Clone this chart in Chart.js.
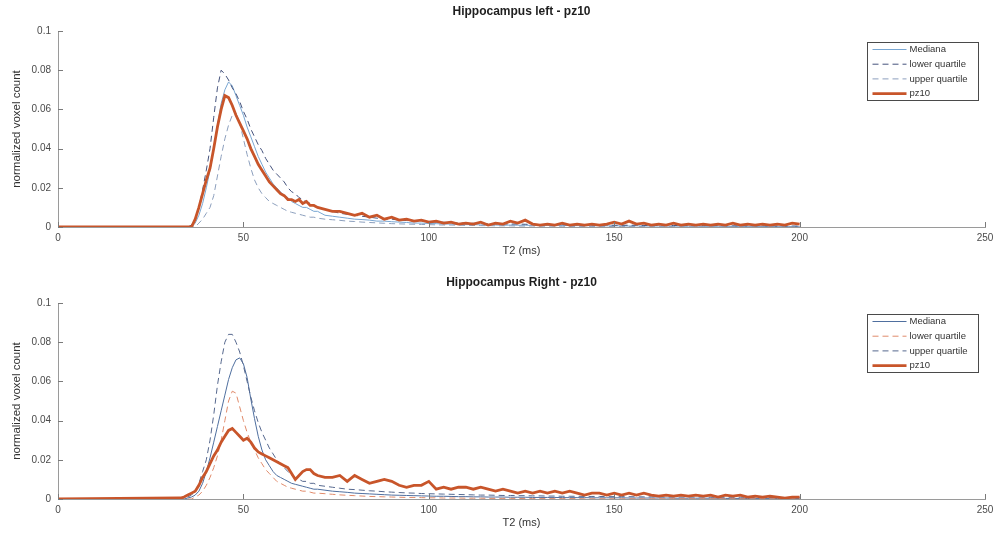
<!DOCTYPE html>
<html>
<head>
<meta charset="utf-8">
<title>Hippocampus T2 distributions - pz10</title>
<script src="https://cdn.jsdelivr.net/npm/chart.js@4.4.1/dist/chart.umd.min.js"></script>
<style>
  html, body { margin: 0; padding: 0; background: #fff; }
  .panel { width: 1000px; height: 270px; }
  canvas { display: block; }
</style>
</head>
<body>
<div class="panel"><canvas id="left" width="1000" height="270"></canvas></div>
<div class="panel"><canvas id="right" width="1000" height="270"></canvas></div>
<script>
// T2 bins (ms) shared by every curve
const t2 = [0, 33, 34, 35,
  36, 37, 38, 39, 40, 41, 42, 43, 44, 45, 46, 47, 48, 49, 50, 51, 52, 53, 54, 55,
  56, 57, 58, 59, 60, 61, 62, 63, 64, 65, 66, 67, 68, 69, 70,
  72, 74, 76, 78, 80, 82, 84, 86, 88, 90, 92, 94, 96, 98, 100, 102, 104, 106, 108, 110,
  112, 114, 116, 118, 120, 122, 124, 126, 128, 130, 132, 134, 136, 138, 140, 142, 144, 146, 148, 150,
  152, 154, 156, 158, 160, 162, 164, 166, 168, 170, 172, 174, 176, 178, 180, 182, 184, 186, 188, 190,
  192, 194, 196, 198, 200];

const xTicks = [0, 50, 100, 150, 200, 250];
const yTicks = [0, 0.02, 0.04, 0.06, 0.08, 0.1];
const seriesNames = ['Mediana', 'lower quartile', 'upper quartile', 'pz10'];

// ---- Hippocampus left ----
const leftMedian = [0, 0, 0, 0,
  0, 0.002, 0.006, 0.012, 0.020, 0.029, 0.040, 0.052, 0.063, 0.070,
  0.074, 0.072, 0.067, 0.062, 0.057, 0.051, 0.046, 0.041, 0.036, 0.032,
  0.028, 0.025, 0.022, 0.020, 0.018, 0.016, 0.015, 0.013, 0.012, 0.011,
  0.010, 0.010, 0.009, 0.008, 0.008,
  0.006, 0.0055, 0.005, 0.0045, 0.004, 0.0038, 0.0035, 0.003, 0.003, 0.0027,
  0.0025, 0.0023, 0.002, 0.002, 0.0018, 0.0017, 0.0015, 0.0015, 0.0013, 0.0012,
  0.0012, 0.0011, 0.001, 0.001, 0.0009, 0.001, 0.0009, 0.0009, 0.0008, 0.0008,
  0.0008, 0.0007, 0.0008, 0.0007, 0.0007, 0.0006, 0.0007, 0.0006, 0.0006, 0.0006,
  0.0006, 0.0005, 0.0006, 0.0005, 0.0005, 0.0005, 0.0004, 0.0005, 0.0004, 0.0004,
  0.0004, 0.0004, 0.0003, 0.0004, 0.0003, 0.0003, 0.0003, 0.0003, 0.0003, 0.0002,
  0.0003, 0.0002, 0.0002, 0.0002, 0.0002];

const leftLower = [0, 0, 0, 0,
  0.001, 0.004, 0.010, 0.019, 0.029, 0.040, 0.056, 0.071, 0.080, 0.078,
  0.075, 0.071, 0.068, 0.064, 0.059, 0.055, 0.050, 0.046, 0.042, 0.039,
  0.035, 0.032, 0.029, 0.027, 0.025, 0.023, 0.020, 0.018, 0.017, 0.015,
  0.014, 0.013, 0.012, 0.011, 0.010,
  0.009, 0.008, 0.007, 0.0065, 0.006, 0.0055, 0.005, 0.0045, 0.004, 0.004,
  0.0035, 0.0033, 0.003, 0.003, 0.0027, 0.0025, 0.0024, 0.0022, 0.002, 0.002,
  0.0019, 0.0018, 0.0017, 0.0016, 0.0016, 0.0015, 0.0015, 0.0014, 0.0013, 0.0013,
  0.0012, 0.0012, 0.0012, 0.0011, 0.0011, 0.001, 0.001, 0.001, 0.001, 0.0009,
  0.0009, 0.0009, 0.0009, 0.0008, 0.0008, 0.0008, 0.0008, 0.0008, 0.0007, 0.0007,
  0.0007, 0.0007, 0.0007, 0.0007, 0.0006, 0.0006, 0.0006, 0.0006, 0.0006, 0.0006,
  0.0006, 0.0005, 0.0005, 0.0005, 0.0005];

const leftUpper = [0, 0, 0, 0,
  0, 0, 0.002, 0.004, 0.007, 0.010, 0.016, 0.026, 0.036, 0.045,
  0.052, 0.057, 0.058, 0.053, 0.045, 0.037, 0.030, 0.024, 0.020, 0.017,
  0.015, 0.013, 0.012, 0.011, 0.010, 0.009, 0.008, 0.0075, 0.007, 0.0065,
  0.006, 0.0055, 0.005, 0.005, 0.0045,
  0.004, 0.0037, 0.0034, 0.003, 0.0028, 0.0025, 0.0023, 0.0021, 0.0019, 0.0017,
  0.0016, 0.0015, 0.0014, 0.0013, 0.0012, 0.0011, 0.001, 0.001, 0.0009, 0.0008,
  0.0008, 0.0007, 0.0007, 0.0006, 0.0006, 0.0006, 0.0005, 0.0005, 0.0005, 0.0004,
  0.0004, 0.0004, 0.0004, 0.0003, 0.0003, 0.0003, 0.0003, 0.0003, 0.0003, 0.0002,
  0.0002, 0.0002, 0.0002, 0.0002, 0.0002, 0.0002, 0.0002, 0.0002, 0.0001, 0.0001,
  0.0001, 0.0001, 0.0001, 0.0001, 0.0001, 0.0001, 0.0001, 0.0001, 0.0001, 0.0001,
  0.0001, 0.0001, 0.0001, 0.0001, 0.0001];

const leftPz10 = [0, 0, 0, 0,
  0, 0.004, 0.010, 0.017, 0.024, 0.030, 0.040, 0.051, 0.060, 0.067,
  0.066, 0.062, 0.057, 0.053, 0.049, 0.045, 0.040, 0.036, 0.032, 0.029,
  0.026, 0.023, 0.021, 0.019, 0.017, 0.016, 0.014, 0.014, 0.013, 0.014,
  0.012, 0.013, 0.011, 0.011, 0.010,
  0.009, 0.008, 0.008, 0.007, 0.006, 0.007, 0.005, 0.006, 0.004, 0.005,
  0.0035, 0.004, 0.003, 0.0035, 0.0025, 0.003, 0.002, 0.0025, 0.0015, 0.002,
  0.0015, 0.0025, 0.001, 0.002, 0.0015, 0.003, 0.002, 0.0035, 0.0015, 0.001,
  0.0015, 0.001, 0.002, 0.001, 0.0015, 0.001, 0.0015, 0.001, 0.0015, 0.0025,
  0.0015, 0.003, 0.0015, 0.002, 0.001, 0.0015, 0.001, 0.002, 0.001, 0.0015,
  0.001, 0.0015, 0.001, 0.0015, 0.001, 0.002, 0.001, 0.0015, 0.001, 0.0015,
  0.001, 0.0015, 0.001, 0.002, 0.0015];

// ---- Hippocampus right ----
const rightMedian = [0, 0, 0, 0.0005,
  0.001, 0.002, 0.004, 0.008, 0.014, 0.021, 0.029, 0.037, 0.045, 0.053,
  0.061, 0.067, 0.071, 0.072, 0.069, 0.062, 0.051, 0.041, 0.032, 0.025,
  0.020, 0.017, 0.014, 0.012, 0.011, 0.010, 0.009, 0.008, 0.0075, 0.007,
  0.0065, 0.006, 0.0055, 0.005, 0.005,
  0.0045, 0.004, 0.0037, 0.0034, 0.003, 0.0028, 0.0026, 0.0024, 0.0022, 0.002,
  0.0019, 0.0018, 0.0017, 0.0016, 0.0015, 0.0014, 0.0014, 0.0013, 0.0012, 0.0012,
  0.0011, 0.0011, 0.001, 0.001, 0.001, 0.0009, 0.0009, 0.0009, 0.0008, 0.0008,
  0.0008, 0.0008, 0.0007, 0.0007, 0.0007, 0.0007, 0.0006, 0.0006, 0.0006, 0.0006,
  0.0006, 0.0005, 0.0005, 0.0005, 0.0005, 0.0005, 0.0005, 0.0004, 0.0004, 0.0004,
  0.0004, 0.0004, 0.0004, 0.0004, 0.0003, 0.0003, 0.0003, 0.0003, 0.0003, 0.0003,
  0.0003, 0.0003, 0.0003, 0.0003, 0.0003];

const rightLower = [0, 0, 0, 0,
  0, 0.001, 0.002, 0.004, 0.007, 0.011, 0.016, 0.022, 0.030, 0.040,
  0.050, 0.055, 0.054, 0.047, 0.040, 0.034, 0.029, 0.025, 0.021, 0.018,
  0.015, 0.013, 0.011, 0.009, 0.008, 0.007, 0.006, 0.0055, 0.005, 0.0045,
  0.004, 0.004, 0.0035, 0.003, 0.003,
  0.0027, 0.0024, 0.0021, 0.0019, 0.0017, 0.0015, 0.0013, 0.0012, 0.0011, 0.001,
  0.0009, 0.0008, 0.0008, 0.0007, 0.0006, 0.0006, 0.0005, 0.0005, 0.0005, 0.0004,
  0.0004, 0.0004, 0.0003, 0.0003, 0.0003, 0.0003, 0.0003, 0.0002, 0.0002, 0.0002,
  0.0002, 0.0002, 0.0002, 0.0002, 0.0002, 0.0001, 0.0001, 0.0001, 0.0001, 0.0001,
  0.0001, 0.0001, 0.0001, 0.0001, 0.0001, 0.0001, 0.0001, 0.0001, 0.0001, 0.0001,
  0.0001, 0.0001, 0.0001, 0.0001, 0.0001, 0.0001, 0.0001, 0.0001, 0.0001, 0.0001,
  0.0001, 0.0001, 0.0001, 0.0001, 0.0001];

const rightUpper = [0, 0, 0, 0.001,
  0.002, 0.004, 0.008, 0.014, 0.020, 0.030, 0.043, 0.058, 0.070, 0.080,
  0.084, 0.084, 0.080, 0.075, 0.068, 0.060, 0.052, 0.045, 0.039, 0.034,
  0.030, 0.026, 0.023, 0.020, 0.018, 0.016, 0.014, 0.012, 0.011, 0.010,
  0.009, 0.009, 0.008, 0.008, 0.007,
  0.0065, 0.006, 0.0055, 0.005, 0.0048, 0.0045, 0.0042, 0.004, 0.0037, 0.0035,
  0.0033, 0.0031, 0.003, 0.0028, 0.0027, 0.0026, 0.0025, 0.0024, 0.0023, 0.0022,
  0.0021, 0.002, 0.002, 0.0019, 0.0018, 0.0018, 0.0017, 0.0017, 0.0016, 0.0016,
  0.0015, 0.0015, 0.0014, 0.0014, 0.0014, 0.0013, 0.0013, 0.0013, 0.0012, 0.0012,
  0.0012, 0.0012, 0.0011, 0.0011, 0.0011, 0.0011, 0.001, 0.001, 0.001, 0.001,
  0.001, 0.001, 0.0009, 0.0009, 0.0009, 0.0009, 0.0009, 0.0009, 0.0008, 0.0008,
  0.0008, 0.0008, 0.0008, 0.0008, 0.0008];

const rightPz10 = [0, 0.0005, 0.001, 0.002,
  0.003, 0.004, 0.007, 0.011, 0.014, 0.018, 0.022, 0.025, 0.029, 0.032,
  0.035, 0.036, 0.034, 0.032, 0.030, 0.031, 0.029, 0.026, 0.024, 0.023,
  0.022, 0.021, 0.020, 0.019, 0.018, 0.017, 0.016, 0.013, 0.010, 0.012,
  0.014, 0.015, 0.015, 0.013, 0.012,
  0.011, 0.011, 0.012, 0.009, 0.012, 0.010, 0.008, 0.009, 0.010, 0.009,
  0.007, 0.006, 0.007, 0.007, 0.009, 0.005, 0.006, 0.005, 0.006, 0.006,
  0.005, 0.006, 0.005, 0.004, 0.005, 0.004, 0.003, 0.004, 0.003, 0.004,
  0.003, 0.004, 0.003, 0.004, 0.003, 0.002, 0.003, 0.003, 0.002, 0.003,
  0.002, 0.003, 0.002, 0.003, 0.002, 0.0015, 0.002, 0.0015, 0.002, 0.0015,
  0.002, 0.0015, 0.002, 0.001, 0.002, 0.0015, 0.002, 0.001, 0.0015, 0.001,
  0.0015, 0.001, 0.0005, 0.001, 0.001];

const FONT = '"Liberation Sans", Arial, Helvetica, sans-serif';

// MATLAB-like extras: inward ticks, title centred on the axes, boxed legend
const matlabLook = {
  id: 'matlabLook',
  afterDraw(chart, args, opts) {
    const { ctx, chartArea: a, scales: { x, y } } = chart;
    ctx.save();
    ctx.strokeStyle = '#7a7a7a';
    ctx.lineWidth = 1;
    ctx.beginPath();
    x.ticks.forEach(t => {
      const px = Math.round(x.getPixelForValue(t.value)) + 0.5;
      ctx.moveTo(px, a.bottom);
      ctx.lineTo(px, a.bottom - 5);
    });
    y.ticks.forEach(t => {
      const py = Math.round(y.getPixelForValue(t.value)) + 0.5;
      ctx.moveTo(a.left, py);
      ctx.lineTo(a.left + 5, py);
    });
    ctx.stroke();

    ctx.fillStyle = '#1e1e1e';
    ctx.font = 'bold 12px ' + FONT;
    ctx.textAlign = 'center';
    ctx.textBaseline = 'middle';
    ctx.fillText(opts.title, (a.left + a.right) / 2, opts.titleY);

    const bx = 867.5, by = Math.round(a.top) + 11.5, bw = 111, bh = 58;
    ctx.fillStyle = '#fff';
    ctx.fillRect(bx, by, bw, bh);
    ctx.strokeStyle = '#4a4a4a';
    ctx.strokeRect(bx, by, bw, bh);
    ctx.font = '9.5px ' + FONT;
    ctx.textAlign = 'left';
    chart.data.datasets.forEach((ds, i) => {
      const ly = by + 7 + i * 14.7;
      ctx.save();
      ctx.strokeStyle = ds.borderColor;
      ctx.lineWidth = ds.borderWidth;
      ctx.setLineDash(ds.borderDash || []);
      ctx.beginPath();
      ctx.moveTo(bx + 5, ly);
      ctx.lineTo(bx + 39, ly);
      ctx.stroke();
      ctx.restore();
      ctx.fillStyle = '#333';
      ctx.fillText(ds.label, bx + 42, ly);
    });
    ctx.restore();
  }
};

function makeSeries(label, values, color, dashed, width, order) {
  return {
    label: label,
    data: t2.map((x, i) => ({ x: x, y: values[i] })),
    borderColor: color,
    backgroundColor: color,
    borderWidth: width,
    borderDash: dashed ? [6, 4] : [],
    pointRadius: 0,
    tension: 0,
    fill: false,
    order: order
  };
}

function makeChart(id, datasets, title, titleY, padTop, xHeight, xTitlePad) {
  return new Chart(document.getElementById(id), {
    type: 'line',
    data: { datasets: datasets },
    plugins: [matlabLook],
    options: {
      responsive: false,
      animation: false,
      devicePixelRatio: 1,
      layout: { padding: { top: padTop, right: 15, left: 0, bottom: 0 } },
      plugins: {
        legend: { display: false },
        title: { display: false },
        tooltip: { enabled: false },
        matlabLook: { title: title, titleY: titleY }
      },
      scales: {
        x: {
          type: 'linear',
          min: 0,
          max: 250,
          afterBuildTicks: s => { s.ticks = xTicks.map(v => ({ value: v })); },
          afterFit: s => { s.height = xHeight; },
          grid: { drawOnChartArea: false, drawTicks: false },
          border: { color: '#9a9a9a', width: 1 },
          ticks: { color: '#4a4a4a', font: { family: FONT, size: 10 }, padding: 5, maxRotation: 0 },
          title: { display: true, text: 'T2 (ms)', color: '#333', font: { family: FONT, size: 11 }, padding: { top: 0, bottom: xTitlePad } }
        },
        y: {
          min: 0,
          max: 0.1,
          afterBuildTicks: s => { s.ticks = yTicks.map(v => ({ value: v })); },
          afterFit: s => { s.width = 58; },
          grid: { drawOnChartArea: false, drawTicks: false },
          border: { color: '#9a9a9a', width: 1 },
          ticks: {
            color: '#4a4a4a',
            font: { family: FONT, size: 10 },
            padding: 7,
            callback: v => String(Number(v.toFixed(2)))
          },
          title: { display: true, text: 'normalized voxel count', color: '#333', font: { family: FONT, size: 11.5 }, padding: { top: 10, bottom: 0 } }
        }
      }
    }
  });
}

makeChart('left', [
  makeSeries(seriesNames[0], leftMedian, '#78a6d2', false, 1, 3),
  makeSeries(seriesNames[1], leftLower, '#44527c', true, 1, 2),
  makeSeries(seriesNames[2], leftUpper, '#8c9fbd', true, 1, 1),
  makeSeries(seriesNames[3], leftPz10, '#c8552a', false, 2.8, 0)
], 'Hippocampus left - pz10', 12, 31, 43, 12);

makeChart('right', [
  makeSeries(seriesNames[0], rightMedian, '#4f6f9f', false, 1, 3),
  makeSeries(seriesNames[1], rightLower, '#e08a6a', true, 1, 2),
  makeSeries(seriesNames[2], rightUpper, '#56688e', true, 1, 1),
  makeSeries(seriesNames[3], rightPz10, '#c8552a', false, 2.8, 0)
], 'Hippocampus Right - pz10', 13, 33, 41, 10);
</script>
</body>
</html>
